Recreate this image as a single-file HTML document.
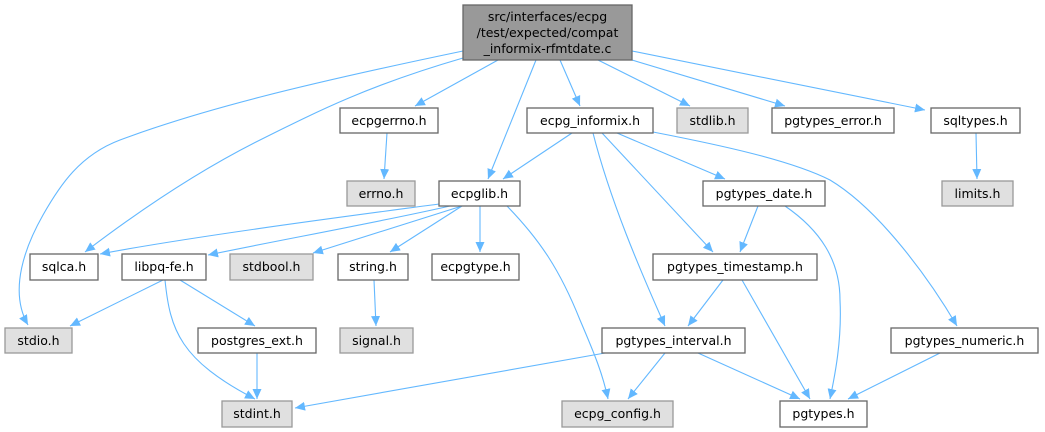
<!DOCTYPE html>
<html><head><meta charset="utf-8"><style>
html,body{margin:0;padding:0;background:#fff;}
svg{display:block;}
text{font-family:"DejaVu Sans","Liberation Sans",sans-serif;font-size:12.5px;fill:#000;text-anchor:middle;}
.n{fill:#fff;stroke:#666;stroke-width:1.3;}
.g{fill:#e0e0e0;stroke:#999;stroke-width:1.3;}
.e{fill:none;stroke:#63b8ff;stroke-width:1.1;marker-end:url(#a);}
</style></head><body>
<svg width="1045" height="432" viewBox="0 0 1045 432" xmlns="http://www.w3.org/2000/svg">
<defs><marker id="a" markerUnits="userSpaceOnUse" markerWidth="12" markerHeight="12" refX="10" refY="6" orient="auto"><path d="M0,1.5 L10,6 L0,10.5 z" fill="#63b8ff"/></marker></defs>
<path class="e" d="M498,60 L415,106"/>
<path class="e" d="M536,60 L488,179"/>
<path class="e" d="M560,60 L580,106"/>
<path class="e" d="M598,60 L690,106"/>
<path class="e" d="M632,60 L785,106"/>
<path class="e" d="M632,51 L925,110"/>
<path class="e" d="M463,51 C300,85 200,110 120,140 C80,155 60,185 43,215 C26,245 8,290 28,325"/>
<path class="e" d="M463,58 C370,85 320,110 260,140 C200,170 140,210 85,252"/>
<path class="e" d="M387,133 L384,179"/>
<path class="e" d="M439,204 C380,212 200,235 100,254"/>
<path class="e" d="M450,206 C380,222 280,240 208,255"/>
<path class="e" d="M462,206 L313,253"/>
<path class="e" d="M462,206 L390,252"/>
<path class="e" d="M480,206 L480,252"/>
<path class="e" d="M507,206 C540,240 560,270 580,320 C595,355 603,375 608,399"/>
<path class="e" d="M572,133 L503,179"/>
<path class="e" d="M617,133 L725,179"/>
<path class="e" d="M602,133 L713,252"/>
<path class="e" d="M593,133 C610,200 640,270 665,326"/>
<path class="e" d="M653,132 C720,145 790,160 830,180 C880,210 930,280 957,326"/>
<path class="e" d="M758,206 L740,252"/>
<path class="e" d="M785,206 C820,230 840,260 840,300 C842,340 835,375 830,399"/>
<path class="e" d="M723,280 L688,326"/>
<path class="e" d="M742,280 L810,399"/>
<path class="e" d="M605,353 L295,408"/>
<path class="e" d="M665,353 L628,399"/>
<path class="e" d="M698,353 L800,399"/>
<path class="e" d="M940,353 L848,399"/>
<path class="e" d="M163,280 L70,326"/>
<path class="e" d="M165,280 C170,330 180,360 255,399"/>
<path class="e" d="M180,280 L255,326"/>
<path class="e" d="M257,353 L257,399"/>
<path class="e" d="M374,280 L376,326"/>
<path class="e" d="M976,133 L977,179"/>

<rect x="463" y="5" width="169" height="55" fill="#999" stroke="#666" stroke-width="1.3"/>
<text x="547.5" y="21">src/interfaces/ecpg</text>
<text x="547.5" y="37">/test/expected/compat</text>
<text x="547.5" y="53">_informix-rfmtdate.c</text>

<rect class="n" x="340" y="108" width="98" height="25"/><text x="389" y="125">ecpgerrno.h</text>
<rect class="g" x="347" y="181" width="68" height="25"/><text x="381" y="198">errno.h</text>
<rect class="n" x="439" y="181" width="81" height="25"/><text x="479.5" y="198">ecpglib.h</text>
<rect class="n" x="527" y="108" width="126" height="25"/><text x="590" y="125">ecpg_informix.h</text>
<rect class="g" x="677" y="108" width="71" height="25"/><text x="712.5" y="125">stdlib.h</text>
<rect class="n" x="772" y="108" width="122" height="25"/><text x="833" y="125">pgtypes_error.h</text>
<rect class="n" x="931" y="108" width="89" height="25"/><text x="975.5" y="125">sqltypes.h</text>
<rect class="g" x="942" y="181" width="71" height="25"/><text x="977.5" y="198">limits.h</text>
<rect class="n" x="703" y="181" width="122" height="25"/><text x="764" y="198">pgtypes_date.h</text>

<rect class="n" x="30" y="254" width="68" height="26"/><text x="64" y="271">sqlca.h</text>
<rect class="n" x="122" y="254" width="84" height="26"/><text x="164" y="271">libpq-fe.h</text>
<rect class="g" x="230" y="254" width="83" height="26"/><text x="271.5" y="271">stdbool.h</text>
<rect class="n" x="338" y="254" width="70" height="26"/><text x="373" y="271">string.h</text>
<rect class="n" x="432" y="254" width="87" height="26"/><text x="475.5" y="271">ecpgtype.h</text>
<rect class="n" x="653" y="254" width="164" height="26"/><text x="735" y="271">pgtypes_timestamp.h</text>

<rect class="g" x="5" y="328" width="67" height="25"/><text x="38.5" y="345">stdio.h</text>
<rect class="n" x="198" y="328" width="118" height="25"/><text x="257" y="345">postgres_ext.h</text>
<rect class="g" x="340" y="328" width="73" height="25"/><text x="376.5" y="345">signal.h</text>
<rect class="n" x="602" y="328" width="143" height="25"/><text x="673.5" y="345">pgtypes_interval.h</text>
<rect class="n" x="891" y="328" width="147" height="25"/><text x="964.5" y="345">pgtypes_numeric.h</text>

<rect class="g" x="222" y="401" width="70" height="26"/><text x="257" y="418">stdint.h</text>
<rect class="g" x="562" y="401" width="111" height="26"/><text x="617.5" y="418">ecpg_config.h</text>
<rect class="n" x="780" y="401" width="87" height="26"/><text x="823.5" y="418">pgtypes.h</text>
</svg>
</body></html>
